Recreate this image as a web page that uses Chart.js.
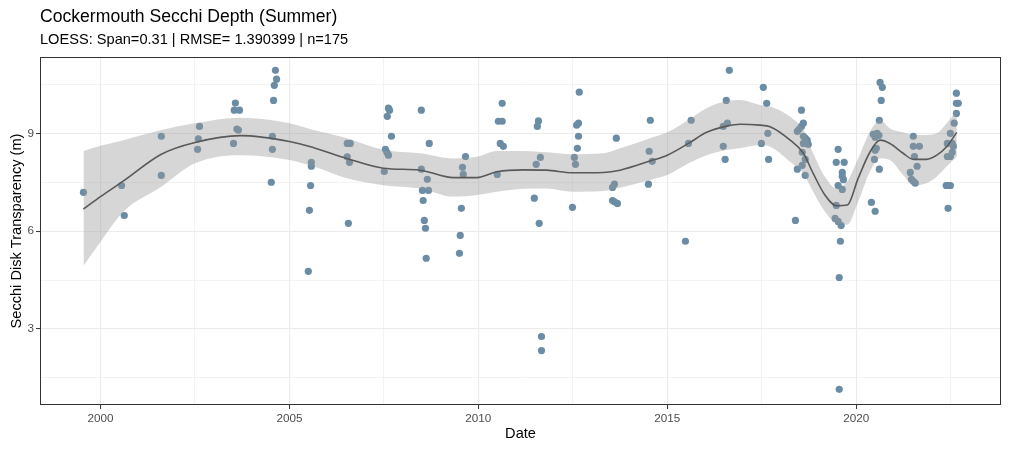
<!DOCTYPE html>
<html>
<head>
<meta charset="utf-8">
<script src="https://cdn.jsdelivr.net/npm/chart.js@4/dist/chart.umd.min.js"></script>
<style>
  html, body { margin: 0; padding: 0; background: #fff; }
  #wrap { width: 1009px; height: 450px; }
</style>
</head>
<body>
<div id="wrap"><canvas id="c" width="1009" height="450"></canvas></div>
<script>
// observations (decimal year, secchi depth in m)
var dates = [
  1999.55, 2000.56, 2000.63, 2001.61, 2001.61, 2002.62, 2002.59, 2002.57,
  2003.57, 2003.54, 2003.68, 2003.61, 2003.65, 2003.52,
  2004.63, 2004.66, 2004.60, 2004.58, 2004.55, 2004.55, 2004.52,
  2005.58, 2005.58, 2005.56, 2005.53, 2005.50,
  2006.53, 2006.61, 2006.53, 2006.59, 2006.56,
  2007.62, 2007.65, 2007.59, 2007.70, 2007.54, 2007.58, 2007.62, 2007.51,
  2008.49, 2008.70, 2008.49, 2008.65, 2008.52, 2008.68, 2008.54, 2008.57, 2008.60, 2008.62,
  2009.66, 2009.58, 2009.60, 2009.55, 2009.52, 2009.50,
  2010.63, 2010.53, 2010.63, 2010.58, 2010.66, 2010.50,
  2011.59, 2011.56, 2011.64, 2011.53, 2011.48, 2011.61, 2011.67, 2011.67,
  2012.67, 2012.65, 2012.60, 2012.65, 2012.62, 2012.54, 2012.57, 2012.49,
  2013.65, 2013.60, 2013.55, 2013.55, 2013.60, 2013.68,
  2014.55, 2014.52, 2014.60, 2014.50,
  2015.48, 2015.63, 2015.56,
  2016.64, 2016.56, 2016.59, 2016.48, 2016.48, 2016.53,
  2017.54, 2017.63, 2017.66, 2017.49, 2017.68,
  2018.55, 2018.60, 2018.55, 2018.49, 2018.44, 2018.60, 2018.65, 2018.70,
  2018.60, 2018.73, 2018.57, 2018.65, 2018.57, 2018.44, 2018.65, 2018.39,
  2019.52, 2019.47, 2019.68, 2019.63, 2019.63, 2019.66, 2019.52, 2019.63,
  2019.47, 2019.44, 2019.52, 2019.60, 2019.58, 2019.55, 2019.55,
  2020.63, 2020.69, 2020.66, 2020.61, 2020.45, 2020.55, 2020.50, 2020.60,
  2020.53, 2020.50, 2020.48, 2020.61, 2020.40, 2020.50,
  2021.51, 2021.51, 2021.67, 2021.54, 2021.61, 2021.43, 2021.46, 2021.51, 2021.56,
  2022.65, 2022.65, 2022.70, 2022.65, 2022.59, 2022.49, 2022.41, 2022.54,
  2022.57, 2022.54, 2022.41, 2022.49, 2022.38, 2022.43, 2022.49, 2022.43
];
var secchi = [
  7.19, 7.40, 6.48, 8.91, 7.71, 9.21, 8.83, 8.51,
  9.93, 9.71, 9.71, 9.13, 9.10, 8.69,
  10.93, 10.66, 10.47, 10.01, 8.91, 8.51, 7.50,
  8.11, 7.99, 7.40, 6.64, 4.77,
  8.69, 8.69, 8.28, 8.11, 6.24,
  9.77, 9.71, 9.52, 8.91, 8.51, 8.42, 8.33, 7.83,
  9.71, 8.69, 7.90, 7.59, 7.25, 7.25, 6.94, 6.33, 6.09, 5.17,
  8.29, 7.96, 7.74, 6.70, 5.87, 5.32,
  9.92, 9.37, 9.37, 8.69, 8.60, 7.74,
  9.38, 9.21, 8.26, 8.05, 7.01, 6.24, 2.77, 2.34,
  10.26, 9.31, 9.25, 8.91, 8.54, 8.26, 8.05, 6.73,
  8.85, 7.44, 7.34, 6.94, 6.90, 6.85,
  9.40, 8.45, 8.14, 7.44,
  5.69, 9.40, 8.69,
  10.93, 10.01, 9.31, 9.21, 8.60, 8.20,
  10.41, 9.92, 9.00, 8.69, 8.20,
  9.71, 9.31, 9.21, 9.13, 9.06, 8.91, 8.85, 8.79,
  8.69, 8.66, 8.42, 8.20, 8.02, 7.90, 7.71, 6.33,
  8.51, 8.11, 8.11, 7.80, 7.68, 7.58, 7.40, 7.28,
  6.79, 6.39, 6.30, 6.17, 5.69, 4.58, 1.15,
  10.56, 10.41, 10.01, 9.40, 8.97, 9.00, 8.88, 8.94,
  8.54, 8.48, 8.20, 7.90, 6.88, 6.61,
  8.91, 8.60, 8.60, 8.29, 7.99, 7.80, 7.59, 7.53, 7.47,
  10.23, 9.92, 9.92, 9.61, 9.31, 9.00, 8.69, 8.69,
  8.60, 8.42, 8.29, 8.29, 7.40, 7.40, 7.40, 6.70
];

// loess fit and its confidence band
var fitDates = [
  1999.55, 2000.00, 2000.61, 2001.61, 2002.50, 2003.70, 2005.00, 2005.64,
  2006.52, 2007.49, 2008.46, 2009.34, 2009.96, 2010.49, 2011.20, 2011.81,
  2012.49, 2013.31, 2013.75, 2014.54, 2015.00, 2015.56, 2016.04, 2016.57,
  2016.92, 2017.45, 2017.72, 2018.25, 2018.60, 2018.86, 2019.17, 2019.48,
  2019.76, 2020.05, 2020.36, 2020.63, 2020.89, 2021.24, 2021.51, 2021.86,
  2022.13, 2022.39, 2022.66
];
var fitValues = [
  6.68, 7.06, 7.54, 8.36, 8.72, 8.93, 8.75, 8.56,
  8.23, 7.93, 7.87, 7.64, 7.64, 7.82, 7.88, 7.87,
  7.79, 7.80, 7.87, 8.15, 8.33, 8.69, 9.03, 9.22,
  9.28, 9.25, 9.20, 8.79, 8.39, 7.77, 7.11, 6.78,
  6.80, 7.62, 8.42, 8.79, 8.69, 8.39, 8.20, 8.20,
  8.33, 8.59, 9.03
];
var fitLower = [
  4.94, 5.67, 6.60, 7.36, 8.08, 8.33, 8.18, 7.98,
  7.62, 7.41, 7.31, 7.06, 7.11, 7.21, 7.30, 7.31,
  7.21, 7.23, 7.33, 7.57, 7.72, 8.08, 8.33, 8.49,
  8.54, 8.64, 8.59, 8.13, 7.77, 7.21, 6.60, 6.24,
  6.20, 6.90, 7.82, 8.23, 8.18, 7.72, 7.41, 7.47,
  7.67, 7.98, 8.28
];
var fitUpper = [
  8.46, 8.62, 8.79, 9.10, 9.31, 9.48, 9.31, 9.10,
  8.85, 8.49, 8.39, 8.23, 8.28, 8.46, 8.46, 8.42,
  8.36, 8.39, 8.54, 8.85, 9.03, 9.41, 9.77, 9.99,
  10.02, 9.87, 9.82, 9.51, 9.10, 8.39, 7.67, 7.31,
  7.52, 8.23, 9.05, 9.41, 9.15, 9.03, 8.95, 8.95,
  9.00, 9.31, 9.71
];

var xGrid = [2000, 2002.5, 2005, 2007.5, 2010, 2012.5, 2015, 2017.5, 2020, 2022.5];
var xLabels = [2000, 2005, 2010, 2015, 2020];
var yGrid = [1.5, 3, 4.5, 6, 7.5, 9, 10.5];
var yLabels = [3, 6, 9];

var titleText = 'Cockermouth Secchi Depth (Summer)';
var subtitleText = 'LOESS: Span=0.31 | RMSE= 1.390399 | n=175';

function pairs(xs, ys) {
  return xs.map(function (x, i) { return { x: x, y: ys[i] }; });
}
function isMajor(list, v) {
  return list.some(function (m) { return Math.abs(m - v) < 1e-6; });
}

var fontFam = '"Liberation Sans", Arial, sans-serif';

var panelPlugin = {
  id: 'panel',
  afterDraw: function (chart) {
    var a = chart.chartArea, ctx = chart.ctx;
    ctx.save();
    ctx.strokeStyle = '#333333';
    ctx.lineWidth = 1;
    ctx.strokeRect(Math.round(a.left) + 0.5, Math.round(a.top) + 0.5,
      Math.round(a.right - a.left) - 1, Math.round(a.bottom - a.top) - 1);
    ctx.fillStyle = '#000';
    ctx.textBaseline = 'middle';
    ctx.textAlign = 'left';
    ctx.font = '17.6px ' + fontFam;
    ctx.fillText(titleText, a.left, 17);
    ctx.font = '14.6px ' + fontFam;
    ctx.fillText(subtitleText, a.left, 40);
    ctx.restore();
  }
};

var ctx = document.getElementById('c').getContext('2d');
var myChart = new Chart(ctx, {
  type: 'scatter',
  data: {
    datasets: [
      {
        label: 'obs',
        data: pairs(dates, secchi),
        backgroundColor: 'rgb(106,140,165)',
        borderWidth: 0,
        pointRadius: 3.6,
        order: 4
      },
      {
        label: 'upper',
        data: pairs(fitDates, fitUpper),
        showLine: true,
        borderWidth: 0,
        borderColor: 'rgba(0,0,0,0)',
        pointRadius: 0,
        backgroundColor: 'rgba(153,153,153,0.4)',
        fill: '+1',
        cubicInterpolationMode: 'monotone',
        order: 3
      },
      {
        label: 'lower',
        data: pairs(fitDates, fitLower),
        showLine: true,
        borderWidth: 0,
        borderColor: 'rgba(0,0,0,0)',
        pointRadius: 0,
        fill: false,
        cubicInterpolationMode: 'monotone',
        order: 3
      },
      {
        label: 'fit',
        data: pairs(fitDates, fitValues),
        showLine: true,
        borderColor: '#595959',
        borderWidth: 1.6,
        pointRadius: 0,
        fill: false,
        cubicInterpolationMode: 'monotone',
        order: 1
      }
    ]
  },
  options: {
    animation: false,
    responsive: false,
    layout: { padding: { top: 57, left: 0, right: 8, bottom: 0 } },
    plugins: {
      legend: { display: false },
      tooltip: { enabled: false },
      title: { display: false }
    },
    scales: {
      x: {
        type: 'linear',
        min: 1998.4,
        max: 2023.83,
        afterBuildTicks: function (s) { s.ticks = xGrid.map(function (v) { return { value: v }; }); },
        afterFit: function (s) { s.height = 45; },
        ticks: {
          autoSkip: false,
          maxRotation: 0,
          padding: 3,
          color: '#4D4D4D',
          font: { family: fontFam, size: 11.7 },
          callback: function (v) { return isMajor(xLabels, v) ? String(v) : ''; }
        },
        grid: {
          color: '#EBEBEB',
          lineWidth: function (c) { return c.tick && isMajor(xLabels, c.tick.value) ? 1.1 : 0.6; },
          tickLength: 4,
          tickWidth: 1,
          tickColor: function (c) { return c.tick && isMajor(xLabels, c.tick.value) ? '#333333' : 'rgba(0,0,0,0)'; }
        },
        border: { display: false },
        title: {
          display: true,
          text: 'Date',
          color: '#000',
          font: { family: fontFam, size: 14.6 },
          padding: { top: 0, bottom: 7 }
        }
      },
      y: {
        type: 'linear',
        min: 0.67,
        max: 11.34,
        afterBuildTicks: function (s) { s.ticks = yGrid.map(function (v) { return { value: v }; }); },
        afterFit: function (s) { s.width = 40; },
        ticks: {
          padding: 2,
          color: '#4D4D4D',
          font: { family: fontFam, size: 11.7 },
          callback: function (v) { return isMajor(yLabels, v) ? String(v) : ''; }
        },
        grid: {
          color: '#EBEBEB',
          lineWidth: function (c) { return c.tick && isMajor(yLabels, c.tick.value) ? 1.1 : 0.6; },
          tickLength: 4,
          tickWidth: 1,
          tickColor: function (c) { return c.tick && isMajor(yLabels, c.tick.value) ? '#333333' : 'rgba(0,0,0,0)'; }
        },
        border: { display: false },
        title: {
          display: true,
          text: 'Secchi Disk Transparency (m)',
          color: '#000',
          font: { family: fontFam, size: 14.6 },
          padding: { top: 8, bottom: 0 }
        }
      }
    }
  },
  plugins: [panelPlugin]
});
</script>
</body>
</html>
